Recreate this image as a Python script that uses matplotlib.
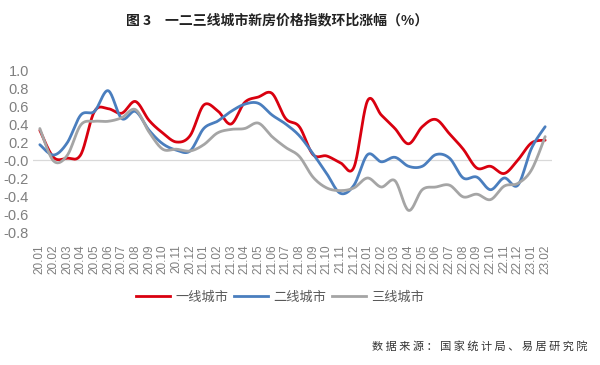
import numpy as np
import matplotlib
matplotlib.use("Agg")
import matplotlib.pyplot as plt
from matplotlib.lines import Line2D

plt.rcParams['font.family'] = ['Noto Sans CJK SC', 'DejaVu Sans']

months = ["20.01","20.02","20.03","20.04","20.05","20.06","20.07","20.08","20.09","20.10","20.11","20.12",
          "21.01","21.02","21.03","21.04","21.05","21.06","21.07","21.08","21.09","21.10","21.11","21.12",
          "22.01","22.02","22.03","22.04","22.05","22.06","22.07","22.08","22.09","22.10","22.11","22.12",
          "23.01","23.02"]
tier1 = [0.33, 0.03, 0.02, 0.06, 0.54, 0.57, 0.52, 0.65, 0.44, 0.30, 0.20, 0.27,
         0.61, 0.55, 0.40, 0.64, 0.70, 0.74, 0.46, 0.37, 0.06, 0.045, -0.03, -0.08,
         0.66, 0.50, 0.35, 0.18, 0.37, 0.45, 0.29, 0.12, -0.09, -0.07, -0.15, 0.0,
         0.19, 0.22]
tier2 = [0.17, 0.055, 0.19, 0.50, 0.54, 0.77, 0.46, 0.54, 0.33, 0.18, 0.11, 0.10,
         0.35, 0.43, 0.54, 0.62, 0.63, 0.50, 0.40, 0.27, 0.07, -0.15, -0.37, -0.28,
         0.06, -0.02, 0.03, -0.07, -0.07, 0.06, 0.02, -0.20, -0.19, -0.33, -0.20, -0.28,
         0.13, 0.37]
tier3 = [0.35, -0.01, 0.05, 0.39, 0.43, 0.43, 0.47, 0.56, 0.31, 0.12, 0.12, 0.10,
         0.17, 0.30, 0.34, 0.35, 0.41, 0.26, 0.14, 0.04, -0.19, -0.31, -0.34, -0.31,
         -0.20, -0.30, -0.23, -0.56, -0.33, -0.30, -0.28, -0.41, -0.38, -0.44, -0.29, -0.26,
         -0.11, 0.26]
series_names = ["一线城市", "二线城市", "三线城市"]
colors = ["#D9000F", "#4A7EBE", "#A5A5A5"]


def smooth(y, n=20):
    y = np.asarray(y, float)
    x = np.arange(len(y), dtype=float)
    px = np.concatenate([[x[0]], x, [x[-1]]])
    py = np.concatenate([[y[0]], y, [y[-1]]])
    xs, ys = [], []
    t = np.linspace(0, 1, n, endpoint=False)
    for i in range(1, len(px) - 2):
        p0x, p1x, p2x, p3x = px[i-1], px[i], px[i+1], px[i+2]
        p0y, p1y, p2y, p3y = py[i-1], py[i], py[i+1], py[i+2]
        c1x = p1x + (p2x - p0x) / 6; c1y = p1y + (p2y - p0y) / 6
        c2x = p2x - (p3x - p1x) / 6; c2y = p2y - (p3y - p1y) / 6
        b = lambda a0, a1, a2, a3: ((1-t)**3*a0 + 3*(1-t)**2*t*a1 + 3*(1-t)*t**2*a2 + t**3*a3)
        xs.append(b(p1x, c1x, c2x, p2x)); ys.append(b(p1y, c1y, c2y, p2y))
    xs.append([x[-1]]); ys.append([y[-1]])
    return np.concatenate(xs), np.concatenate(ys)


fig = plt.figure(figsize=(6.0, 3.65), dpi=100)
ax = fig.add_axes([33/600, 1 - 232/365, 519/600, 162/365])

for data, c in zip([tier1, tier2, tier3], colors):
    sx, sy = smooth(data)
    ax.plot(sx, sy, color=c, lw=2.0, solid_capstyle='round', zorder=3)

ax.axhline(0, color="#D9D9D9", lw=0.9, zorder=1)
ax.set_xlim(-0.5, len(months) - 0.5)
ax.set_ylim(-0.8, 1.0)
ax.set_yticks(np.arange(-0.8, 1.01, 0.2))
ax.set_yticklabels([f"{v:.1f}" for v in np.arange(-0.8, 1.01, 0.2)],
                   family=['Liberation Sans', 'DejaVu Sans'])
ax.set_xticks(range(len(months)))
ax.set_xticklabels(months, rotation=90, fontsize=8.5, color="#7F7F7F",
                   family=['Liberation Sans', 'DejaVu Sans'])
ax.tick_params(axis='y', labelsize=10.5, colors="#7F7F7F", length=0, pad=3)
ax.tick_params(axis='x', length=0, pad=9)
for s in ax.spines.values():
    s.set_visible(False)

handles = [Line2D([0], [0], color=c, lw=2.0) for c in colors]
fig.legend(handles, series_names, loc='center', bbox_to_anchor=(280/600, 1 - 297/365),
           ncol=3, frameon=False, fontsize=9.5, handlelength=2.6, handletextpad=0.4,
           columnspacing=0.4, labelcolor="#595959")

fig.text(277/600, 1 - 20/365, "图 3　一二三线城市新房价格指数环比涨幅（%）", ha='center', va='center',
         fontsize=10, fontweight='bold', color="#222222")
fig.text(588/600, 1 - 346/365, "数 据 来 源 ： 国 家 统 计 局 、 易 居 研 究 院", ha='right', va='center',
         fontsize=8, color="#333333")

fig.savefig("out.png", dpi=100)
